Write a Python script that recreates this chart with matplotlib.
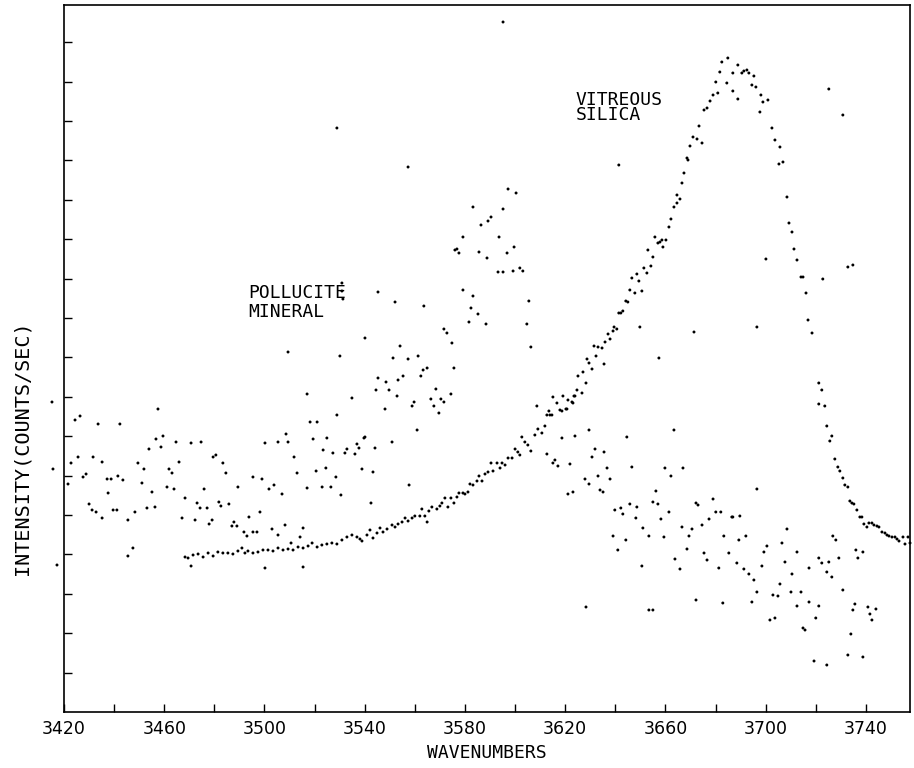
import numpy as np
import matplotlib
matplotlib.use("Agg")
import matplotlib.pyplot as plt
from matplotlib.ticker import MultipleLocator, NullFormatter

# ---------------- data ----------------
silica_x = [3468.3, 3469.5, 3471.5, 3473.5, 3475.5, 3477.5, 3479.5, 3481.4, 3483.4, 3485.4,
            3487.4, 3489.4, 3491.0, 3492.2, 3493.4, 3495.4, 3497.4, 3499.4, 3501.4, 3503.4,
            3505.4, 3507.4, 3509.4, 3511.4, 3513.4, 3515.4, 3517.4, 3519.0, 3521.0, 3522.9,
            3524.9, 3526.9, 3528.9, 3530.9, 3532.9, 3534.9, 3536.9, 3538.1, 3538.9, 3540.9,
            3542.1, 3543.3, 3544.9, 3546.1, 3547.3, 3548.9, 3550.9, 3552.1, 3553.3, 3554.9,
            3556.1, 3557.3, 3558.9, 3560.0, 3562.0, 3562.8, 3564.0, 3565.6, 3566.8, 3568.8,
            3570.0, 3570.8, 3572.0, 3573.2, 3574.4, 3575.6, 3576.8, 3577.6, 3579.2, 3580.0,
            3581.2, 3582.0, 3583.2, 3584.8, 3585.6, 3586.8, 3588.0, 3589.2, 3590.4, 3591.2,
            3592.8, 3594.0, 3594.8, 3596.0, 3597.2, 3598.8, 3600.0, 3601.1, 3601.9, 3602.7,
            3603.9, 3605.1, 3606.3, 3607.9, 3608.7, 3609.1, 3610.7, 3611.9, 3612.7, 3613.5,
            3613.9, 3614.7, 3615.1, 3616.7, 3617.9, 3618.7, 3619.1, 3620.3, 3620.7, 3621.1,
            3622.7, 3623.1, 3623.5, 3623.9, 3624.7, 3625.1, 3626.7, 3627.1, 3628.3, 3628.7,
            3629.5, 3630.7, 3631.5, 3632.3, 3633.1, 3634.7, 3635.5, 3635.9, 3637.1, 3637.9,
            3639.1, 3639.5, 3640.6, 3641.4, 3642.2, 3643.0, 3644.2, 3645.0, 3645.8, 3646.6,
            3647.8, 3648.6, 3649.4, 3650.6, 3651.4, 3652.6, 3653.0, 3654.2, 3655.0, 3655.8,
            3657.0, 3657.8, 3658.6, 3659.0, 3660.2, 3661.4, 3662.2, 3663.4, 3664.6, 3664.6,
            3665.8, 3666.6, 3667.4, 3668.6, 3669.0, 3669.8, 3671.0, 3672.6, 3673.4, 3674.6,
            3675.4, 3676.6, 3677.8, 3679.0, 3680.1, 3680.9, 3681.7, 3682.5, 3684.5, 3684.9,
            3686.9, 3686.9, 3688.9, 3688.9, 3690.5, 3691.3, 3692.5, 3693.3, 3694.5, 3695.3,
            3696.1, 3697.7, 3698.1, 3698.9, 3700.9, 3702.5, 3703.7, 3705.3, 3705.7, 3706.9,
            3708.5, 3709.3, 3710.5, 3711.3, 3712.5, 3714.1, 3714.9, 3716.1, 3716.9, 3718.5,
            3721.2, 3721.2, 3722.4, 3723.6, 3724.4, 3725.6, 3726.4, 3727.6, 3728.8, 3729.6,
            3730.8, 3731.6, 3732.8, 3733.6, 3734.4, 3735.2, 3736.4, 3737.6, 3738.4, 3739.2,
            3740.4, 3741.2, 3742.4, 3743.2, 3744.4, 3745.2, 3746.4, 3747.6, 3748.4, 3749.2,
            3750.4, 3751.6, 3752.4, 3753.2, 3754.8, 3755.6, 3756.8, 3757.6]
silica_y = [155, 154, 157, 158, 155, 159, 156, 160, 159, 159,
            158, 161, 164, 159, 161, 159, 160, 162, 162, 161,
            164, 162, 163, 162, 165, 164, 166, 169, 165, 167,
            168, 169, 168, 172, 175, 177, 175, 173, 171, 177,
            182, 174, 179, 184, 180, 183, 187, 185, 188, 190,
            194, 191, 194, 196, 196, 203, 196, 201, 205, 203,
            206, 209, 214, 205, 214, 209, 215, 219, 219, 218,
            220, 228, 227, 231, 236, 231, 238, 240, 249, 241,
            249, 244, 249, 247, 254, 254, 263, 260, 257, 275,
            270, 267, 261, 277, 306, 283, 279, 286, 297, 301,
            297, 297, 315, 309, 302, 301, 316, 303, 303, 312,
            310, 309, 316, 316, 322, 336, 319, 340, 329, 353,
            349, 343, 366, 356, 365, 364, 348, 370, 378, 373,
            381, 385, 383, 399, 399, 401, 411, 410, 422, 434,
            419, 438, 431, 421, 444, 439, 462, 446, 455, 475,
            469, 470, 472, 465, 472, 485, 493, 505, 509, 517,
            513, 529, 539, 554, 552, 566, 575, 573, 586, 569,
            602, 604, 611, 617, 630, 619, 640, 650, 629, 654,
            639, 621, 647, 613, 639, 641, 642, 639, 627, 636,
            625, 600, 617, 610, 612, 584, 572, 548, 565, 550,
            515, 489, 480, 463, 452, 435, 435, 419, 392, 379,
            329, 308, 322, 306, 286, 271, 276, 253, 245, 241,
            234, 227, 225, 211, 209, 208, 202, 195, 195, 188,
            185, 189, 189, 187, 186, 185, 180, 179, 177, 176,
            175, 175, 173, 171, 175, 168, 175, 169]

pollucite_x = [3415.2, 3415.6, 3417.2, 3421.6, 3422.8, 3424.4, 3425.6, 3426.4, 3427.6, 3428.8,
               3430.0, 3431.2, 3431.6, 3432.8, 3433.6, 3435.2, 3435.2, 3437.2, 3437.6, 3438.8,
               3439.6, 3441.1, 3441.5, 3442.3, 3443.5, 3445.5, 3445.5, 3447.5, 3448.3, 3449.5,
               3451.1, 3451.9, 3453.1, 3453.9, 3455.1, 3456.3, 3456.7, 3457.5, 3458.7, 3459.5,
               3461.1, 3461.9, 3463.1, 3463.9, 3464.7, 3465.9, 3467.1, 3468.3, 3470.7, 3470.7,
               3472.3, 3473.1, 3474.3, 3474.7, 3475.9, 3477.1, 3477.9, 3479.1, 3479.5, 3480.6,
               3481.8, 3482.6, 3483.4, 3484.6, 3485.8, 3487.0, 3487.8, 3489.0, 3489.4, 3491.8,
               3493.0, 3493.8, 3495.4, 3495.4, 3497.0, 3498.2, 3499.0, 3500.2, 3500.2, 3501.8,
               3503.0, 3503.8, 3505.4, 3505.4, 3507.0, 3508.2, 3508.6, 3509.4, 3510.6, 3511.8,
               3513.0, 3514.2, 3515.4, 3515.4, 3517.0, 3517.0, 3518.2, 3519.4, 3520.6, 3521.0,
               3523.0, 3523.4, 3524.5, 3524.9, 3526.5, 3527.3, 3528.5, 3528.9, 3530.5, 3532.1,
               3532.9, 3534.9, 3536.1, 3536.9, 3537.7, 3538.9, 3540.1, 3542.5, 3543.3, 3544.1,
               3550.9, 3557.7, 3560.9, 3564.9, 3612.7, 3615.1, 3557.3, 3641.4, 3597.2, 3600.4,
               3595.2, 3583.2, 3590.4, 3589.2, 3586.4, 3579.2, 3593.6, 3576.0, 3576.8, 3577.6,
               3585.6, 3588.8, 3596.8, 3599.6, 3593.2, 3595.2, 3599.2, 3601.9, 3603.1, 3530.9,
               3530.9, 3531.3, 3545.3, 3579.2, 3583.2, 3605.5, 3552.1, 3563.6, 3582.4, 3585.2,
               3581.6, 3588.4, 3604.7, 3571.6, 3572.8, 3540.1, 3554.1, 3574.8, 3606.3, 3551.3,
               3561.3, 3557.3, 3530.1, 3564.9, 3563.3, 3575.6, 3555.3, 3553.3, 3562.4, 3545.3,
               3548.5, 3544.5, 3549.7, 3568.4, 3552.9, 3566.4, 3570.4, 3571.6, 3574.4, 3559.7,
               3558.9, 3567.6, 3548.1, 3569.6, 3539.7, 3629.5, 3623.9, 3618.7, 3644.6, 3631.9,
               3649.8, 3657.4, 3663.4, 3615.9, 3617.1, 3621.9, 3630.7, 3635.5, 3636.7, 3633.1,
               3627.9, 3629.5, 3637.9, 3633.9, 3635.1, 3621.1, 3623.1, 3646.6, 3659.8, 3662.2,
               3667.0, 3656.2, 3655.0, 3657.0, 3639.8, 3642.2, 3643.0, 3645.8, 3648.6, 3648.2,
               3651.0, 3653.4, 3639.1, 3644.2, 3641.0, 3650.6, 3658.2, 3659.4, 3661.4, 3666.6,
               3668.6, 3663.8, 3665.8, 3669.4, 3670.6, 3672.2, 3673.0, 3674.6, 3675.4, 3676.6,
               3677.4, 3679.0, 3680.1, 3682.1, 3681.3, 3683.3, 3685.3, 3686.5, 3686.9, 3688.5,
               3689.3, 3689.7, 3691.3, 3692.1, 3693.3, 3694.5, 3695.3, 3696.5, 3698.5, 3699.3,
               3700.5, 3701.7, 3702.9, 3703.7, 3704.9, 3705.7, 3706.5, 3707.7, 3708.5, 3710.1,
               3710.5, 3712.5, 3712.5, 3714.1, 3714.9, 3715.7, 3717.3, 3717.3, 3719.3, 3720.0,
               3721.2, 3721.2, 3722.4, 3724.4, 3725.2, 3726.4, 3724.4, 3726.8, 3728.0, 3729.2,
               3730.8, 3732.8, 3734.0, 3734.8, 3735.6, 3736.0, 3736.8, 3738.8, 3738.8, 3740.8,
               3741.6, 3742.4, 3744.0, 3628.3, 3653.4, 3655.0, 3672.2, 3682.9, 3696.5, 3725.2,
               3730.8, 3700.1, 3732.8, 3734.8, 3722.8, 3671.4, 3696.5, 3528.9, 3595.2, 3509.4]
pollucite_y = [310, 243, 147, 228, 249, 292, 255, 296, 235, 238,
               208, 202, 255, 200, 288, 250, 194, 233, 219, 233,
               202, 202, 236, 288, 232, 192, 156, 164, 200, 249,
               229, 243, 204, 263, 220, 205, 273, 303, 265, 276,
               225, 243, 239, 223, 270, 250, 194, 214, 269, 146,
               192, 209, 204, 270, 223, 204, 188, 192, 255, 257,
               210, 206, 249, 239, 208, 186, 190, 186, 225, 180,
               176, 195, 180, 235, 180, 200, 233, 269, 144, 223,
               183, 227, 177, 270, 218, 187, 278, 270, 169, 255,
               239, 175, 184, 145, 224, 318, 290, 273, 241, 290,
               225, 262, 244, 274, 225, 259, 235, 297, 217, 259,
               263, 314, 258, 268, 264, 243, 275, 209, 240, 264,
               270, 227, 282, 190, 258, 249, 545, 547, 523, 519,
               503, 505, 495, 491, 487, 475, 475, 462, 463, 459,
               460, 454, 459, 465, 440, 440, 441, 444, 441, 429,
               421, 413, 420, 422, 416, 411, 410, 406, 404, 398,
               390, 388, 388, 383, 379, 374, 366, 369, 365, 354,
               356, 353, 356, 344, 342, 344, 336, 332, 336, 334,
               330, 322, 322, 323, 316, 313, 313, 310, 318, 310,
               306, 306, 303, 299, 274, 282, 276, 274, 275, 263,
               385, 354, 282, 252, 246, 248, 255, 260, 244, 236,
               233, 228, 233, 222, 220, 218, 220, 245, 244, 236,
               244, 221, 210, 208, 202, 204, 198, 208, 205, 194,
               184, 176, 176, 172, 162, 146, 193, 175, 200, 185,
               163, 153, 143, 176, 183, 209, 207, 187, 159, 152,
               193, 213, 200, 200, 144, 176, 159, 195, 195, 149,
               172, 196, 143, 176, 138, 110, 132, 120, 146, 160,
               166, 92, 117, 94, 116, 128, 169, 150, 183, 120,
               138, 106, 160, 120, 84, 82, 110, 144, 51, 94,
               106, 154, 149, 140, 150, 135, 47, 176, 172, 154,
               122, 57, 78, 102, 108, 162, 154, 160, 55, 105,
               98, 92, 103, 105, 102, 102, 112, 109, 223, 623,
               597, 453, 445, 447, 433, 380, 385, 584, 690, 360]

x_major = [3420, 3460, 3500, 3540, 3580, 3620, 3660, 3700, 3740]
x_labels = ["3420", "3460", "3500", "3540", "3580", "3620", "3660", "3700", "3740"]

# ---------------- figure ----------------
W, H, DPI = 914, 768, 100
fig = plt.figure(figsize=(W / DPI, H / DPI), dpi=DPI, facecolor="white")
ax = fig.add_axes([64 / W, 1 - 712 / H, (910 - 64) / W, (712 - 5) / H])

ax.scatter(silica_x, silica_y, s=4.5, c="black", edgecolors="none", clip_on=False, zorder=3)
ax.scatter(pollucite_x, pollucite_y, s=4.5, c="black", edgecolors="none", clip_on=False, zorder=3)

ax.set_xlim(3420, 3757.6)
ax.set_ylim(0, 707)

for sp in ax.spines.values():
    sp.set_linewidth(1.2)
    sp.set_color("black")

ax.set_xticks(x_major)
ax.set_xticklabels(x_labels)
ax.xaxis.set_minor_locator(MultipleLocator(20))
ax.xaxis.set_minor_formatter(NullFormatter())
ax.set_yticks(np.arange(1, 18) * 39.4)
ax.set_yticklabels([])

ax.tick_params(axis="x", which="both", direction="in", length=5.5, width=1.0,
               labelsize=12.5, pad=6, top=False)
ax.tick_params(axis="y", which="both", direction="in", length=6, width=1.0,
               right=False, left=True)

mono = ["DejaVu Sans Mono", "DejaVu Sans"]
ax.set_xlabel("WAVENUMBERS", fontsize=13, family=mono, labelpad=4)
fig.text(22 / W, 1 - 448 / H, "INTENSITY(COUNTS/SEC)", rotation=90, fontsize=14.5,
         family=mono, ha="center", va="center")

ax.text(3624.3, 621, "VITREOUS\nSILICA", fontsize=13, family=mono, ha="left", va="top",
        linespacing=0.8)
ax.text(3493.4, 428, "POLLUCITE\nMINERAL", fontsize=13, family=mono, ha="left", va="top",
        linespacing=1.1)

fig.savefig("out.png", dpi=DPI, facecolor="white")
